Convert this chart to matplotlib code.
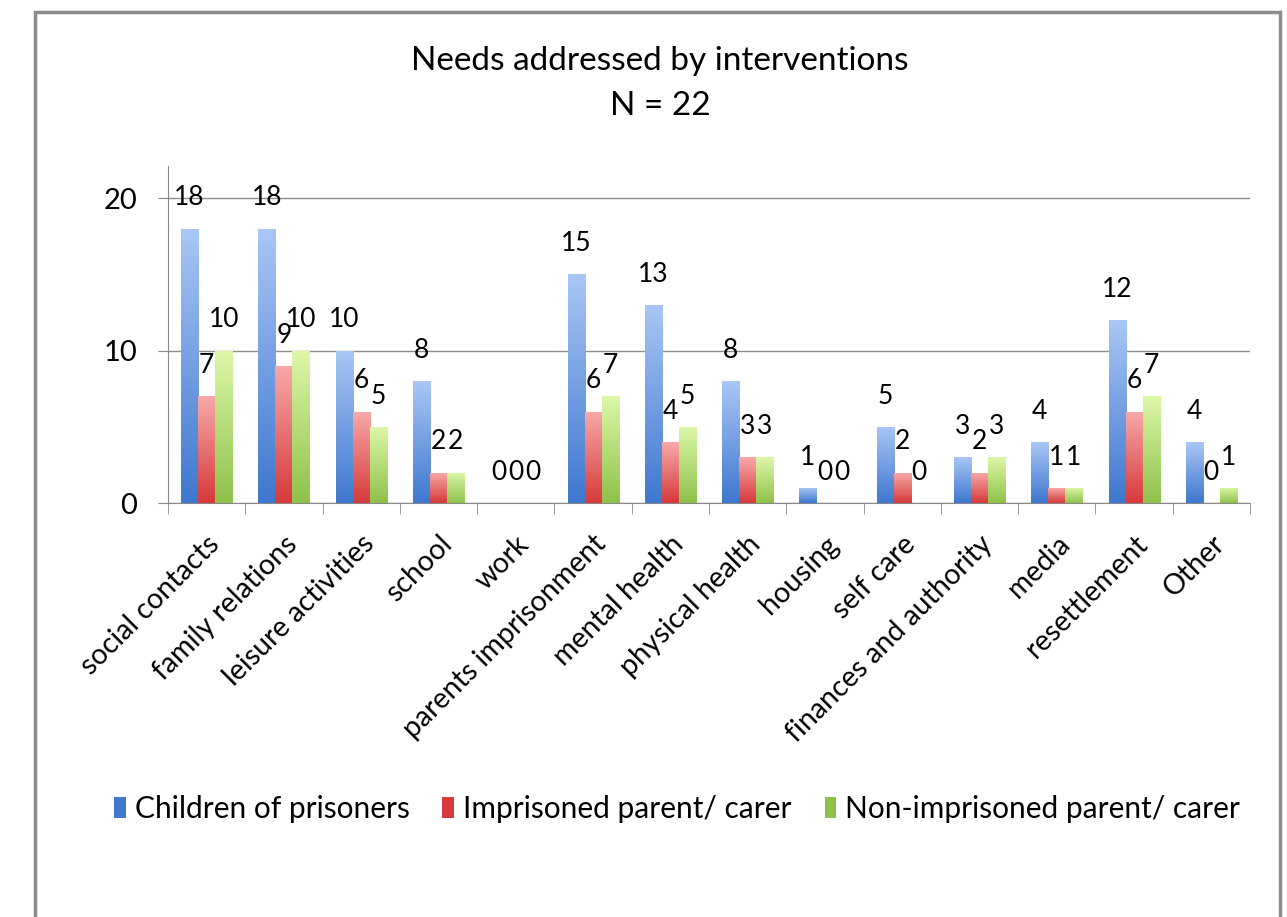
import numpy as np
import matplotlib.pyplot as plt
from matplotlib.colors import LinearSegmentedColormap
from matplotlib.patches import Rectangle

categories = ['social contacts', 'family relations', 'leisure activities', 'school', 'work',
              'parents imprisonment', 'mental health', 'physical health', 'housing', 'self care',
              'finances and authority', 'media', 'resettlement', 'Other']
children = [18, 18, 10, 8, 0, 15, 13, 8, 1, 5, 3, 4, 12, 4]
imprisoned = [7, 9, 6, 2, 0, 6, 4, 3, 0, 2, 2, 1, 6, 0]
non_imprisoned = [10, 10, 5, 2, 0, 7, 5, 3, 0, 0, 3, 1, 7, 1]
series_names = ['Children of prisoners', 'Imprisoned parent/ carer', 'Non-imprisoned parent/ carer']

# (top colour, bottom colour) for the Excel-like gradient
grads = [('#a9c6f5', '#3f78cf'), ('#f7a9a9', '#d63a3a'), ('#ddf7a8', '#8fc24a')]

plt.rcParams['font.family'] = ['Lato', 'DejaVu Sans']

fig = plt.figure(figsize=(12.87, 9.17), dpi=100)
fig.patches.append(Rectangle((35 / 1287, -0.05), 1245 / 1287, 1 - 12 / 917 + 0.05,
                             transform=fig.transFigure, fill=False,
                             edgecolor='#8c8c8c', linewidth=2.5))

ax = fig.add_axes([168 / 1287, 1 - 503 / 917, (1250 - 168) / 1287, (503 - 166) / 917])

x = np.arange(len(categories))
w = 0.22
grad_img = np.linspace(1, 0, 100).reshape(-1, 1)
for i, vals in enumerate([children, imprisoned, non_imprisoned]):
    pos = x + (i - 1) * w
    bars = ax.bar(pos, vals, w, color=grads[i][1], label=series_names[i], zorder=2)
    cmap = LinearSegmentedColormap.from_list('g%d' % i, [grads[i][1], grads[i][0]])
    for b in bars:
        if b.get_height() <= 0:
            continue
        im = ax.imshow(grad_img, cmap=cmap, aspect='auto', zorder=3,
                       extent=[b.get_x(), b.get_x() + b.get_width(), 0, b.get_height()])
        im.set_clip_path(b)
    for p, v in zip(pos, vals):
        ax.annotate(str(v), (p, v), xytext=(0, 22), textcoords='offset points',
                    ha='center', va='center', fontsize=19, zorder=5)

ax.set_xlim(-0.5, len(categories) - 0.5)
ax.set_ylim(0, 22.1)
ax.set_yticks([0, 10, 20])
ax.tick_params(axis='y', labelsize=21, length=7, color='#888888', pad=15)
ax.yaxis.grid(True, color='#8c8c8c', linewidth=1)
ax.set_axisbelow(True)

ax.set_xticks(x)
ax.set_xticklabels(categories, rotation=45, ha='right', rotation_mode='anchor', fontsize=20.5)
ax.tick_params(axis='x', length=0, pad=20)
ax.set_xticks(np.arange(-0.5, len(categories)), minor=True)
ax.tick_params(axis='x', which='minor', length=8, color='#888888')

for s in ['top', 'right']:
    ax.spines[s].set_visible(False)
for s in ['left', 'bottom']:
    ax.spines[s].set_color('#888888')

fig.text(660 / 1287, 1 - 61 / 917, 'Needs addressed by interventions', ha='center', va='center', fontsize=24)
fig.text(660 / 1287, 1 - 106 / 917, 'N = 22', ha='center', va='center', fontsize=24)

handles, labels = ax.get_legend_handles_labels()
fig.legend(handles, labels, loc='center', bbox_to_anchor=(677 / 1287, 1 - 809 / 917), ncol=3,
           frameon=False, fontsize=21.5, handlelength=0.4, handleheight=0.7, handletextpad=0.3,
           columnspacing=1.1)

fig.savefig('out.png', dpi=100)
